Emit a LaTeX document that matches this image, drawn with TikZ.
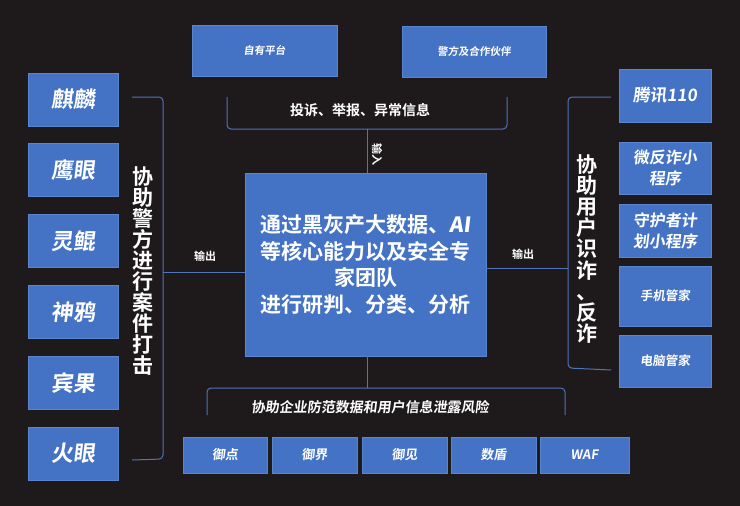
\documentclass[tikz,border=0pt]{standalone}
\usepackage{fontspec}
\setmainfont{Noto Sans CJK SC}[BoldFont={Noto Sans CJK SC Bold}]
\newfontfamily\slfont{Noto Sans CJK SC Bold}[FakeSlant=0.12]
\definecolor{bgdark}{HTML}{1E1A1C}
\definecolor{boxblue}{HTML}{4472C4}
\definecolor{boxedge}{HTML}{5A86D0}
\definecolor{linkblue}{HTML}{4F74B8}

\begin{document}
\begin{tikzpicture}[x=1pt,y=-1pt,
    box/.style={draw=boxedge,fill=boxblue,line width=0.8pt,text=white,inner sep=0pt,align=center},
    link/.style={draw=linkblue,line width=1pt},
    bracket/.style={link,rounded corners=4pt},
    note/.style={text=white,font=\bfseries\fontsize{#1}{#1}\selectfont},
    vtext/.style={text=white,align=center,font=\bfseries\fontsize{21}{21.1}\selectfont}]
  \fill[bgdark] (0,0) rectangle (740,506);
  \useasboundingbox (0,0) rectangle (740,506);

  % sources
  \node[box,minimum width=145pt,minimum height=51pt,font=\slfont\fontsize{10.5}{12}\selectfont] (own) at (264.5,50.5) {自有平台};
  \node[box,minimum width=144pt,minimum height=51pt,font=\slfont\fontsize{10.5}{12}\selectfont] (police) at (474,51.5) {警方及合作伙伴};

  % centre
  \node[box,minimum width=241pt,minimum height=183pt,font=\bfseries\fontsize{21}{26.5}\selectfont] (core) at (365.5,264.5)
    {通过黑灰产大数据、{\slfont AI}\\等核心能力以及安全专\\家团队\\进行研判、分类、分析};

  % left products
  \foreach \name/\txt [count=\i] in {qilin/麒麟,yingyan/鹰眼,lingkun/灵鲲,shenya/神鸦,binguo/宾果,huoyan/火眼}
    \node[box,minimum width=90pt,minimum height=53pt,font=\slfont\fontsize{22}{24}\selectfont] (\name) at (73,{99.5+70.8*(\i-1)}) {\txt};

  % right products
  \node[box,minimum width=92pt,minimum height=53pt,font=\slfont\fontsize{17}{19}\selectfont] (t110) at (665,95.5) {腾讯110};
  \node[box,minimum width=92pt,minimum height=52pt,font=\slfont\fontsize{16}{21}\selectfont] (wfz) at (665,168) {微反诈小\\程序};
  \node[box,minimum width=92pt,minimum height=53pt,font=\slfont\fontsize{16}{21}\selectfont] (shz) at (665,230.5) {守护者计\\划小程序};
  \node[box,minimum width=92pt,minimum height=60pt,font=\slfont\fontsize{12.5}{14}\selectfont] (sjgj) at (665,296) {手机管家};
  \node[box,minimum width=92pt,minimum height=52pt,font=\slfont\fontsize{12.5}{14}\selectfont] (dngj) at (665,361) {电脑管家};

  % bottom products
  \foreach \name/\txt/\cx/\w in {yudian/御点/225/84,yujie/御界/314.5/85,yujian/御见/404.5/85,shudun/数盾/493.5/85,waf/WAF/584.5/89}
    \node[box,minimum width=\w pt,minimum height=36pt,font=\slfont\fontsize{13}{14}\selectfont] (\name) at (\cx,455) {\txt};

  % top bracket
  \coordinate (tbl) at (227,97);
  \coordinate (tbr) at (507,97);
  \coordinate (tbm) at (367,129);
  \draw[bracket] (tbl) -- (227,129) -- (507,129) -- (tbr);
  \draw[link] (tbm) -- (tbm |- core.north);
  \node[note=14] (tlabel) at (360,110) {投诉、举报、异常信息};
  \node[note=11] (inlabel) at (377,154) {\rotatebox{-90}{输入}};

  % left bracket
  \coordinate (lbt) at (132,97);
  \coordinate (lbb) at (132,460);
  \coordinate (lbm) at (163,272);
  \draw[bracket] (lbt) -- (163,97) -- (163,459) -- (lbb);
  \draw[link] (lbm) -- (lbm -| core.west);
  \node[vtext] (ltext) at (143,271) {协\\助\\警\\方\\进\\行\\案\\件\\打\\击};
  \node[note=11] (lout) at (205,256) {输出};

  % right bracket
  \coordinate (rbt) at (611,97);
  \coordinate (rbb) at (611,370);
  \coordinate (rbm) at (568,268);
  \draw[bracket] (rbt) -- (568,97) -- (568,368) -- (rbb);
  \draw[link] (rbm -| core.east) -- (rbm);
  \node[vtext] (rtext) at (587,249) {协\\助\\用\\户\\识\\诈\\、\\反\\诈};
  \node[note=11] (rout) at (523,254) {输出};

  % bottom bracket
  \coordinate (bbl) at (207,415);
  \coordinate (bbr) at (565,415);
  \coordinate (bbm) at (367,388);
  \draw[link] (core.south -| bbm) -- (bbm);
  \draw[bracket] (bbl) -- (207,388) -- (565,388) -- (bbr);
  \node[text=white,font=\slfont\fontsize{14}{14}\selectfont] (blabel) at (370,407) {协助企业防范数据和用户信息泄露风险};
\end{tikzpicture}
\end{document}
